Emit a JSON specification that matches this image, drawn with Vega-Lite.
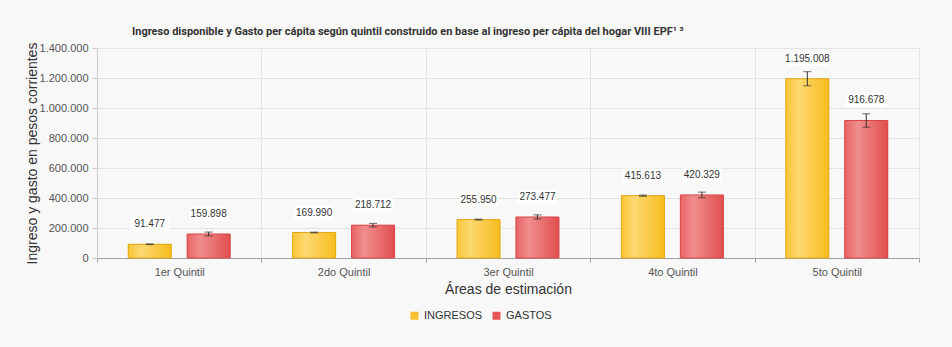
{
  "$schema": "https://vega.github.io/schema/vega-lite/v6.json",
  "autosize": {"type": "none"},
  "width": 822,
  "height": 210,
  "padding": {"left": 97, "top": 48, "right": 33, "bottom": 89},
  "background": "#f8f8f8",
  "title": {
    "text": "Ingreso disponible y Gasto per cápita según quintil construido en base al ingreso per cápita del hogar VIII EPF¹ ³",
    "anchor": "start",
    "frame": "group",
    "dx": 35,
    "offset": 5,
    "font": "Roboto",
    "fontSize": 11,
    "fontWeight": "bold",
    "color": "#333333"
  },
  "data": {
    "values": [
      {"quintil": "1er Quintil", "serie": "INGRESOS", "valor": 91477, "lo": 88977, "hi": 93977},
      {"quintil": "1er Quintil", "serie": "GASTOS", "valor": 159898, "lo": 146898, "hi": 172898},
      {"quintil": "2do Quintil", "serie": "INGRESOS", "valor": 169990, "lo": 167490, "hi": 172490},
      {"quintil": "2do Quintil", "serie": "GASTOS", "valor": 218712, "lo": 206712, "hi": 230712},
      {"quintil": "3er Quintil", "serie": "INGRESOS", "valor": 255950, "lo": 252950, "hi": 258950},
      {"quintil": "3er Quintil", "serie": "GASTOS", "valor": 273477, "lo": 259477, "hi": 287477},
      {"quintil": "4to Quintil", "serie": "INGRESOS", "valor": 415613, "lo": 411613, "hi": 419613},
      {"quintil": "4to Quintil", "serie": "GASTOS", "valor": 420329, "lo": 401329, "hi": 439329},
      {"quintil": "5to Quintil", "serie": "INGRESOS", "valor": 1195008, "lo": 1148008, "hi": 1242008},
      {"quintil": "5to Quintil", "serie": "GASTOS", "valor": 916678, "lo": 871678, "hi": 961678}
    ]
  },
  "encoding": {
    "x": {
      "field": "quintil",
      "type": "nominal",
      "sort": null,
      "scale": {"paddingInner": 0, "paddingOuter": 0},
      "axis": {
        "title": "Áreas de estimación",
        "labelAngle": 0,
        "tickBand": "extent",
        "grid": true,
        "gridColor": "#e3e3e3",
        "domainColor": "#a0a0a0",
        "tickColor": "#a0a0a0",
        "tickSize": 4,
        "labelPadding": 4,
        "labelFont": "Liberation Sans",
        "labelFontSize": 11,
        "labelColor": "#555555",
        "titleFont": "Liberation Sans",
        "titleFontSize": 14,
        "titleFontWeight": "normal",
        "titleColor": "#333333",
        "titlePadding": 5
      }
    },
    "xOffset": {
      "field": "serie",
      "type": "nominal",
      "sort": ["INGRESOS", "GASTOS"],
      "scale": {"domain": ["INGRESOS", "GASTOS"], "paddingInner": 0.27, "paddingOuter": 0.53}
    }
  },
  "layer": [
    {
      "mark": {"type": "bar"},
      "encoding": {
        "y": {
          "field": "valor",
          "type": "quantitative",
          "title": "Ingreso y gasto en pesos corrientes",
          "scale": {"domain": [0, 1400000], "nice": false}
        },
        "color": {
          "field": "serie",
          "type": "nominal",
          "scale": {"domain": ["INGRESOS", "GASTOS"], "range": ["#f8c02a", "#e55454"]},
          "legend": {
            "title": null,
            "orient": "none",
            "direction": "horizontal",
            "legendX": 312,
            "legendY": 262,
            "symbolType": "square",
            "symbolSize": 64,
            "symbolStrokeWidth": 0,
            "labelFont": "Liberation Sans",
            "labelFontSize": 11,
            "labelColor": "#333333",
            "labelOffset": 4,
            "columnPadding": 8
          }
        }
      }
    },
    {
      "transform": [{"filter": "datum.serie === 'INGRESOS'"}],
      "mark": {
        "type": "bar",
        "stroke": "#e0a816",
        "strokeWidth": 1,
        "color": {
          "gradient": "linear",
          "x1": 0, "x2": 1, "y1": 0, "y2": 0,
          "stops": [
            {"offset": 0, "color": "#f9c636"},
            {"offset": 0.3, "color": "#fdd872"},
            {"offset": 1, "color": "#f7bd1e"}
          ]
        }
      },
      "encoding": {"y": {"field": "valor", "type": "quantitative", "title": "Ingreso y gasto en pesos corrientes"}}
    },
    {
      "transform": [{"filter": "datum.serie === 'GASTOS'"}],
      "mark": {
        "type": "bar",
        "stroke": "#d84646",
        "strokeWidth": 1,
        "color": {
          "gradient": "linear",
          "x1": 0, "x2": 1, "y1": 0, "y2": 0,
          "stops": [
            {"offset": 0, "color": "#e86464"},
            {"offset": 0.3, "color": "#f08e8e"},
            {"offset": 1, "color": "#e24e4e"}
          ]
        }
      },
      "encoding": {"y": {"field": "valor", "type": "quantitative", "title": "Ingreso y gasto en pesos corrientes"}}
    },
    {
      "mark": {"type": "rule", "color": "#333333", "strokeWidth": 1},
      "encoding": {
        "y": {"field": "lo", "type": "quantitative", "title": "Ingreso y gasto en pesos corrientes"},
        "y2": {"field": "hi"}
      }
    },
    {
      "mark": {"type": "tick", "color": "#333333", "size": 8, "thickness": 1, "orient": "horizontal"},
      "encoding": {"y": {"field": "lo", "type": "quantitative", "title": "Ingreso y gasto en pesos corrientes"}}
    },
    {
      "mark": {"type": "tick", "color": "#333333", "size": 8, "thickness": 1, "orient": "horizontal"},
      "encoding": {"y": {"field": "hi", "type": "quantitative", "title": "Ingreso y gasto en pesos corrientes"}}
    },
    {
      "mark": {
        "type": "point",
        "shape": "M-1,-0.36H1V0.36H-1Z",
        "size": 1600,
        "filled": true,
        "color": "#ffffff",
        "opacity": 0.85,
        "yOffset": -20
      },
      "encoding": {"y": {"field": "valor", "type": "quantitative", "title": "Ingreso y gasto en pesos corrientes"}}
    },
    {
      "mark": {
        "type": "text",
        "dy": -20,
        "baseline": "middle",
        "font": "Liberation Sans",
        "fontSize": 10,
        "color": "#333333"
      },
      "encoding": {
        "y": {"field": "valor", "type": "quantitative", "title": "Ingreso y gasto en pesos corrientes"},
        "text": {"field": "valor", "type": "quantitative", "format": ",.0f"}
      }
    }
  ],
  "config": {
    "view": {"stroke": null},
    "numberFormat": ",.0f",
    "locale": {
      "number": {"decimal": ",", "thousands": ".", "grouping": [3], "currency": ["$", ""]}
    },
    "axisY": {
      "tickCount": 7,
      "labelOverlap": false,
      "labelFlush": false,
      "gridColor": "#e3e3e3",
      "domain": true,
      "domainColor": "#cccccc",
      "tickColor": "#cccccc",
      "tickSize": 5,
      "labelPadding": 4,
      "labelFont": "Liberation Sans",
      "labelFontSize": 11,
      "labelColor": "#555555",
      "titleFont": "Liberation Sans",
      "titleFontSize": 14,
      "titleFontWeight": "normal",
      "titleColor": "#333333",
      "titlePadding": 0
    }
  }
}
